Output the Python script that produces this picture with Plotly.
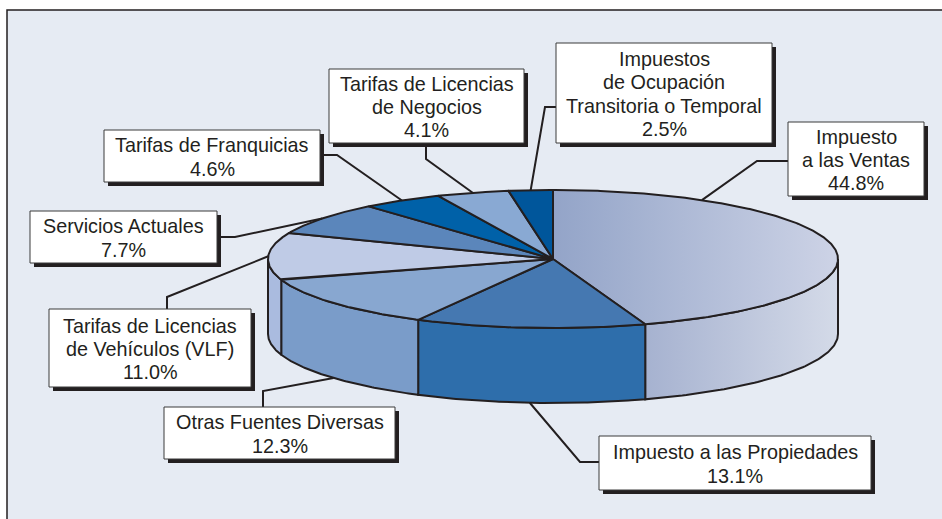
import numpy as np
import plotly.graph_objects as go

# ---------------- data ----------------
labels = [
    "Impuesto a las Ventas",
    "Impuesto a las Propiedades",
    "Otras Fuentes Diversas",
    "Tarifas de Licencias de Vehículos (VLF)",
    "Servicios Actuales",
    "Tarifas de Franquicias",
    "Tarifas de Licencias de Negocios",
    "Impuestos de Ocupación Transitoria o Temporal",
]
values = [44.8, 13.1, 12.3, 11.0, 7.7, 4.6, 4.1, 2.5]
label_lines = [
    ["Impuesto", "a las Ventas"],
    ["Impuesto a las Propiedades"],
    ["Otras Fuentes Diversas"],
    ["Tarifas de Licencias", "de Vehículos (VLF)"],
    ["Servicios Actuales"],
    ["Tarifas de Franquicias"],
    ["Tarifas de Licencias", "de Negocios"],
    ["Impuestos", "de Ocupación", "Transitoria o Temporal"],
]

# ---------------- styles / layout ----------------
W, H = 942, 519
CX, CY, RX, RY, DEPTH = 553, 259, 285, 69, 75
EDGE = "#231f20"
FONT = "Liberation Sans, Arial, sans-serif"
FONT_SIZE = 19.8
LINE_STEP = 23.3
top_colors = ["#97a8c9", "#4578b1", "#88a7d0", "#bfcbe6", "#5b86bb", "#0061a8", "#89a9d3", "#00569b"]
side_colors = ["#a9b5d2", "#2e6eab", "#7a9cc9", "#aabbdf", "#5b86bb", "#0061a8", "#89a9d3", "#00569b"]
top_gradients = {0: [[0, "#93a4c8"], [1, "#cdd3e6"]]}
side_gradients = {0: [[0, "#a6b2d0"], [1, "#d4dae8"]]}

# box rect (x0, y0, x1, y1), attach point on box, elbow point
boxes = [
    dict(rect=(788, 122, 924, 196), attach=(788, 161), elbow=(757, 161), anchor_angle=31.5),
    dict(rect=(599, 436, 871, 490), attach=(599, 462), elbow=(580, 462)),
    dict(rect=(164, 407, 395, 459), attach=(263, 407), elbow=(263, 391)),
    dict(rect=(49, 309, 251, 387), attach=(167, 309), elbow=(167, 297)),
    dict(rect=(30, 211, 217, 263), attach=(217, 237), elbow=(235, 237)),
    dict(rect=(104, 130, 320, 182), attach=(320, 155), elbow=(337, 155)),
    dict(rect=(329, 69, 524, 143), attach=(426, 143), elbow=(426, 159)),
    dict(rect=(556, 43, 772, 143), attach=(556, 107), elbow=(545, 107)),
]


def pt(theta_deg, drop=0.0):
    t = np.radians(theta_deg)
    return CX + RX * np.sin(t), CY - RY * np.cos(t) + drop


total = sum(values)
bounds = np.concatenate([[0], np.cumsum(values) / total * 360.0])

fig = go.Figure()

# side walls (front half only: 90..270 deg clockwise from top)
for i in range(len(values)):
    a0, a1 = max(bounds[i], 90), min(bounds[i + 1], 270)
    if a1 <= a0:
        continue
    th = np.linspace(a0, a1, 80)
    xt, yt = pt(th)
    xb, yb = pt(th[::-1], DEPTH)
    xs = np.concatenate([xt, xb, xt[:1]])
    ys = np.concatenate([yt, yb, yt[:1]])
    kw = dict(fillcolor=side_colors[i])
    if i in side_gradients:
        kw["fillgradient"] = dict(type="horizontal", colorscale=side_gradients[i])
    fig.add_trace(go.Scatter(x=xs, y=ys, mode="lines", fill="toself",
                             line=dict(color=EDGE, width=2), hoverinfo="skip",
                             showlegend=False, **kw))

# top faces
for i in range(len(values)):
    th = np.linspace(bounds[i], bounds[i + 1], max(int((bounds[i + 1] - bounds[i]) * 2), 8))
    xt, yt = pt(th)
    xs = np.concatenate([[CX], xt, [CX]])
    ys = np.concatenate([[CY], yt, [CY]])
    kw = dict(fillcolor=top_colors[i])
    if i in top_gradients:
        kw["fillgradient"] = dict(type="horizontal", colorscale=top_gradients[i])
    fig.add_trace(go.Scatter(x=xs, y=ys, mode="lines", fill="toself",
                             line=dict(color=EDGE, width=2), hoverinfo="skip",
                             name=labels[i], showlegend=False, **kw))

# leader lines
for i, b in enumerate(boxes):
    ang = b.get("anchor_angle", (bounds[i] + bounds[i + 1]) / 2)
    front = 90 < ang < 270
    ax, ay = pt(ang, DEPTH if front else 0)
    fig.add_trace(go.Scatter(x=[ax, b["elbow"][0], b["attach"][0]],
                             y=[ay, b["elbow"][1], b["attach"][1]],
                             mode="lines", line=dict(color=EDGE, width=2),
                             hoverinfo="skip", showlegend=False))

shapes = [dict(type="rect", xref="x", yref="y", x0=7, y0=10, x1=W + 5, y1=H + 10,
               fillcolor="#e6ebf3", line=dict(color=EDGE, width=1.5), layer="below")]
annotations = []
for i, b in enumerate(boxes):
    x0, y0, x1, y1 = b["rect"]
    shapes.append(dict(type="rect", xref="x", yref="y", x0=x0 + 4, y0=y0 + 4, x1=x1 + 4, y1=y1 + 4,
                       fillcolor=EDGE, line=dict(width=0), layer="above"))
    shapes.append(dict(type="rect", xref="x", yref="y", x0=x0, y0=y0, x1=x1, y1=y1,
                       fillcolor="white", line=dict(color="#3a3a3a", width=1), layer="above"))
    lines = label_lines[i] + [f"{values[i]:.1f}%"]
    n = len(lines)
    cy = (y0 + y1) / 2 + 1
    for k, ln in enumerate(lines):
        annotations.append(dict(x=(x0 + x1) / 2, y=cy + (k - (n - 1) / 2) * LINE_STEP,
                                xref="x", yref="y", text=ln, showarrow=False,
                                xanchor="center", yanchor="middle",
                                font=dict(family=FONT, size=FONT_SIZE, color=EDGE)))

fig.update_layout(
    width=W, height=H, margin=dict(l=0, r=0, t=0, b=0),
    paper_bgcolor="white", plot_bgcolor="rgba(0,0,0,0)",
    xaxis=dict(range=[0, W], visible=False, fixedrange=True),
    yaxis=dict(range=[H, 0], visible=False, fixedrange=True),
    shapes=shapes, annotations=annotations, showlegend=False,
)

fig.write_html(
    "out.html",
    config=dict(displayModeBar=False),
    post_script="document.body.style.margin='0';document.body.style.overflow='hidden';",
)
